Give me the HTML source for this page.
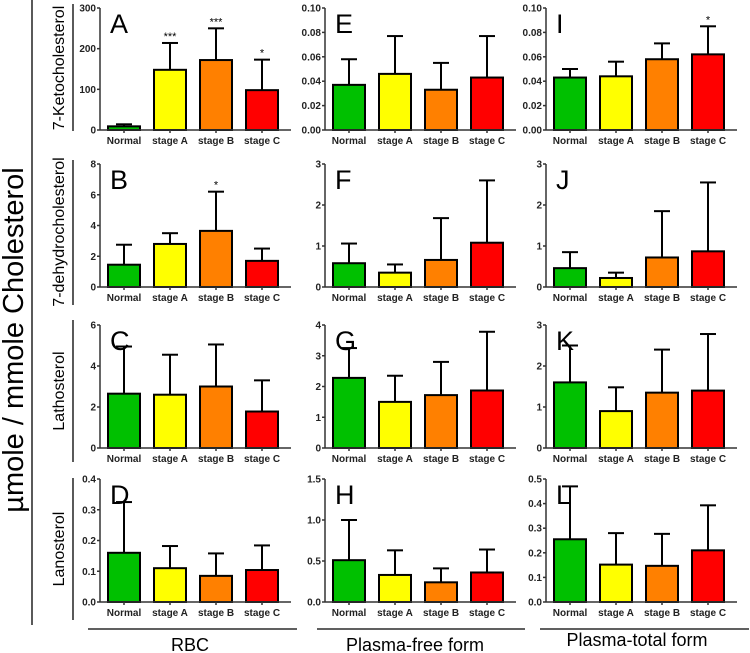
<!DOCTYPE html>
<html><head><meta charset="utf-8"><style>
body{margin:0;background:#fff;}
svg{display:block;font-family:"Liberation Sans",sans-serif;}
</style></head><body>
<svg id="chart" width="750" height="653" viewBox="0 0 750 653">
<text x="23" y="340" font-size="29" text-anchor="middle" transform="rotate(-90 23 340)">µmole / mmole Cholesterol</text>
<line x1="32" y1="0" x2="32" y2="625" stroke="#000" stroke-width="1.3"/>
<line x1="73" y1="4" x2="73" y2="131" stroke="#000" stroke-width="1.3"/>
<line x1="73" y1="160" x2="73" y2="305" stroke="#000" stroke-width="1.3"/>
<line x1="73" y1="320" x2="73" y2="462" stroke="#000" stroke-width="1.3"/>
<line x1="73" y1="478" x2="73" y2="620" stroke="#000" stroke-width="1.3"/>
<text x="64" y="68" font-size="16" text-anchor="middle" transform="rotate(-90 64 68)">7-Ketocholesterol</text>
<text x="64" y="232" font-size="16" text-anchor="middle" transform="rotate(-90 64 232)">7-dehydrocholesterol</text>
<text x="64" y="391" font-size="16" text-anchor="middle" transform="rotate(-90 64 391)">Lathosterol</text>
<text x="64" y="549" font-size="16" text-anchor="middle" transform="rotate(-90 64 549)">Lanosterol</text>
<line x1="88" y1="629" x2="297" y2="629" stroke="#000" stroke-width="1.3"/>
<line x1="317" y1="629" x2="525" y2="629" stroke="#000" stroke-width="1.3"/>
<line x1="540" y1="629" x2="749" y2="629" stroke="#000" stroke-width="1.3"/>
<text x="190" y="651" font-size="18" text-anchor="middle">RBC</text>
<text x="415" y="651" font-size="18" text-anchor="middle">Plasma-free form</text>
<text x="637" y="646" font-size="18" text-anchor="middle">Plasma-total form</text>
</svg>
<script>
const categories = ["Normal","stage A","stage B","stage C"];
const colors = ["#00c000","#ffff00","#ff8000","#ff0000"];
const panelLetters = ["A","B","C","D","E","F","G","H","I","J","K","L"];
const meansA = [9,148,172,98];           const errA = [14,214,250,173];
const meansB = [1.45,2.8,3.65,1.7];      const errB = [2.75,3.5,6.2,2.5];
const meansC = [2.65,2.6,3.0,1.78];      const errC = [4.95,4.55,5.05,3.3];
const meansD = [0.16,0.11,0.085,0.104];  const errD = [0.325,0.182,0.158,0.184];
const meansE = [0.037,0.046,0.033,0.043];const errE = [0.058,0.077,0.055,0.077];
const meansF = [0.58,0.35,0.66,1.08];    const errF = [1.06,0.55,1.68,2.6];
const meansG = [2.28,1.5,1.72,1.87];     const errG = [3.25,2.35,2.8,3.78];
const meansH = [0.51,0.33,0.24,0.36];    const errH = [1.0,0.63,0.41,0.64];
const meansI = [0.043,0.044,0.058,0.062];const errI = [0.050,0.056,0.071,0.085];
const meansJ = [0.46,0.22,0.72,0.87];    const errJ = [0.85,0.35,1.85,2.55];
const meansK = [1.6,0.9,1.35,1.4];       const errK = [2.5,1.48,2.4,2.78];
const meansL = [0.255,0.152,0.147,0.21]; const errL = [0.47,0.28,0.277,0.393];
const starsA = ["","***","***","*"];
const starsB = ["","","*",""];
const starsI = ["","","","*"];
const ticksA = ["0","100","200","300"];
const ticksB = ["0","2","4","6","8"];
const ticksC = ["0","2","4","6"];
const ticksD = ["0.0","0.1","0.2","0.3","0.4"];
const ticksE = ["0.00","0.02","0.04","0.06","0.08","0.10"];
const ticksF = ["0","1","2","3"];
const ticksG = ["0","1","2","3","4"];
const ticksH = ["0.0","0.5","1.0","1.5"];
const ticksI = ["0.00","0.02","0.04","0.06","0.08","0.10"];
const ticksJ = ["0","1","2","3"];
const ticksK = ["0","1","2","3"];
const ticksL = ["0.0","0.1","0.2","0.3","0.4","0.5"];

const NS="http://www.w3.org/2000/svg";
const svg=document.getElementById('chart');
function mk(tag,attrs,parent){const e=document.createElementNS(NS,tag);for(const k in attrs)e.setAttribute(k,attrs[k]);(parent||svg).appendChild(e);return e;}

const panels=[
 [meansA,errA,ticksA,starsA],[meansB,errB,ticksB,starsB],[meansC,errC,ticksC,null],[meansD,errD,ticksD,null],
 [meansE,errE,ticksE,null],[meansF,errF,ticksF,null],[meansG,errG,ticksG,null],[meansH,errH,ticksH,null],
 [meansI,errI,ticksI,starsI],[meansJ,errJ,ticksJ,null],[meansK,errK,ticksK,null],[meansL,errL,ticksL,null]];
const colAxisX=[100,325,546];
const rowY=[[8,130],[164,287],[325,448],[479,602]];

panels.forEach((p,i)=>{
  const col=Math.floor(i/4), row=i%4;
  const [means,errs,ticks,stars]=p;
  const ax=colAxisX[col], top=rowY[row][0], y0=rowY[row][1];
  const maxV=parseFloat(ticks[ticks.length-1]);
  const y=v=>y0-(v/maxV)*(y0-top);
  const x=k=>ax+8+k*46;
  const g=mk('g',{});
  
  
  const lt=mk('text',{x:ax+10,y:top+25,'font-size':27},g);
  lt.textContent=panelLetters[i];
  
  
  means.forEach((m,k)=>{
    const bx=x(k);
    const el=mk('line',{x1:bx+16,x2:bx+16,y1:y(m),y2:y(errs[k]),stroke:'#000','stroke-width':2},g);
    
    
    const cap=mk('line',{x1:bx+8,x2:bx+24,y1:y(errs[k]),y2:y(errs[k]),stroke:'#000','stroke-width':2},g);
    
    
    const r=mk('rect',{x:bx,y:y(m),width:32,height:y0-y(m),fill:colors[k],stroke:'#000','stroke-width':2},g);
    
    
    if(stars&&stars[k]){
      const s=mk('text',{x:bx+16,y:y(errs[k])-3,'font-size':11,'text-anchor':'middle'},g);
      s.textContent=stars[k];
      
      
    }
    const tk=mk('line',{x1:bx+16,x2:bx+16,y1:y0,y2:y0+3,stroke:'#333','stroke-width':1.5},g);
    
    
    const cl=mk('text',{x:bx+16,y:y0+14,'font-size':10,'font-weight':'bold','text-anchor':'middle',fill:'#222'},g);
    cl.textContent=categories[k];
    
    
  });
  const ya=mk('line',{x1:ax,x2:ax,y1:top,y2:y0,stroke:'#333','stroke-width':1.5},g);
  
  
  const xa=mk('line',{x1:ax,x2:ax+191,y1:y0,y2:y0,stroke:'#333','stroke-width':1.5},g);
  
  
  ticks.forEach(t=>{
    const ty=y(parseFloat(t));
    const tl=mk('line',{x1:ax-3,x2:ax,y1:ty,y2:ty,stroke:'#333','stroke-width':1.5},g);
    
    
    const tt=mk('text',{x:ax-4,y:ty+3.5,'font-size':10,'font-weight':'bold','text-anchor':'end',fill:'#222'},g);
    tt.textContent=t;
    
    
  });
});
</script>
</body></html>
